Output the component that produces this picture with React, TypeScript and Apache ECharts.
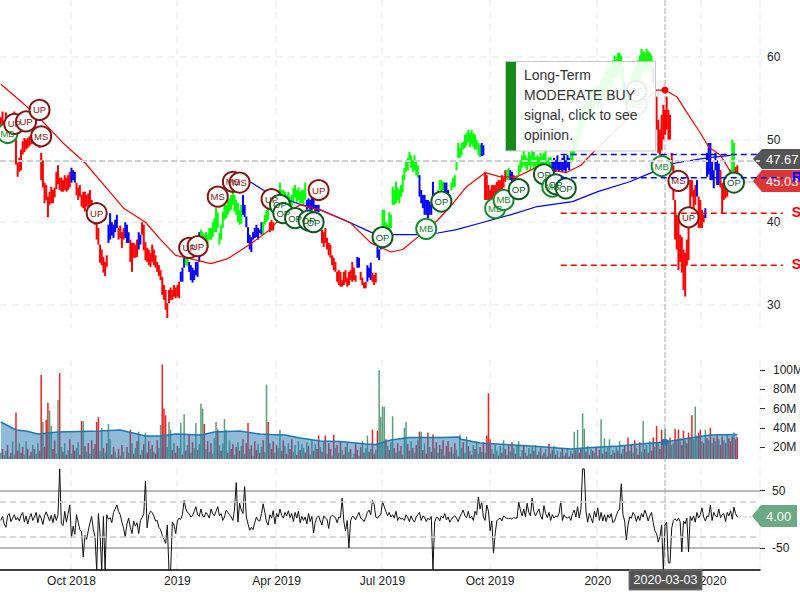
import React, { useEffect, useRef } from "react";
import * as echarts from "echarts";

const FONT = '"Liberation Sans", Arial, sans-serif';
const SLOT_COUNT = 452;

const xTickIndex = [42, 105, 164, 227, 291, 355, 417];
const xTickLabels = ["Oct 2018", "2019", "Apr 2019", "Jul 2019", "Oct 2019", "2020", "Apr 2020"];
const priceTicks = [30, 40, 50, 60];
const volumeTicks = [20, 40, 60, 80, 100];
const oscillatorTicks = [-50, 50];
const oscillatorGuides = [-30, 30];

const priceHigh = [
  52.7,53.4,52.3,53.3,52.7,53.0,52.0,52.7,53.4,50.5,
  47.2,47.8,48.8,49.8,50.2,50,50.2,50.4,50.6,50.7,
  50.8,50.5,50.9,50.3,48.4,47.5,44.8,44.5,43.1,43.7,
  44.3,43.9,44.2,46.1,46.9,45.4,45.4,45.1,45.7,45.4,
  45.7,46.1,46.6,46.3,46.1,44.8,44.2,44.5,43.3,43.7,
  43.7,43.3,43.5,43.9,42.7,42.1,41.5,40,39.3,37.3,
  36.7,35.8,35.2,36,39.7,41.1,40,39.7,40.3,40.9,
  39.3,39.6,38.8,39.3,40,39.7,38.8,37.9,37.5,37.5,
  37.3,37.9,38.8,38.5,40,39.7,37.6,36.9,36.7,36.3,
  37.3,36.7,36,35.2,34.8,34.2,33.4,32.4,31.8,30.2,
  31.8,32.1,31.8,32.4,32.1,32.4,32.8,34,34.5,35.7,
  35.7,35.7,35.2,34.8,34.5,34.2,35.2,35.2,38.8,39.1,
  38.8,38.5,38.8,38.5,39.3,39.3,40,40.5,41.7,41.2,
  38.7,39.7,41.3,42.1,42.1,42.7,42.9,43.3,43.9,43.3,
  42.7,42.3,41.5,42.1,43.3,42.1,40.7,39.4,38.5,38.2,
  38.8,39.3,39.7,39.3,39.1,40,40,40.9,41.5,42.1,
  40,40.3,40,42.7,43.3,43.9,44.8,43.9,43.9,43.7,
  43.3,43.7,43.1,43.3,44.2,44.5,43.9,44.2,43.7,43.9,
  43.9,44.8,42.7,42.9,42.7,43.3,43.3,42.1,42.1,42.1,
  40.9,39.1,38.8,39.3,38.1,37.5,37.3,36,35.7,35.2,
  34,34.2,34,33,34,34.2,33.3,34,34.2,35.2,
  34.5,33.6,35.8,35.7,34,33.3,32.7,32.8,34.8,34.5,
  35.1,33.9,33.6,33.9,37,36.7,37.9,41.5,41.5,40,
  39.7,41.2,40.9,44.3,43.9,44.9,44.2,43.9,44.5,45.7,
  46.6,47.3,47.8,48.5,48.1,47.5,48.1,47.5,46.9,45.7,
  43.9,43.3,43.3,42.7,42.7,42.5,42.1,44.9,43.3,43.3,
  43.9,45.1,45.1,44.9,44.8,44.8,43.9,43.3,44.8,45.4,
  45.7,47.3,49.6,49,49.6,49.7,50.6,50.8,51.2,50.8,
  51.2,50.8,50.6,50,49.6,49.4,49.6,49.3,46.1,45.7,
  44.5,43.9,44.5,44.5,44.5,44.9,45.1,45.1,45.7,45.4,
  46.3,46.3,46.6,46.3,46.1,45.7,45.4,45.7,46.9,47.5,
  48.1,48.7,48.1,47.8,48.5,48.1,48.7,48.5,47.9,48.1,
  47.9,48.4,48.1,48.4,48.7,47.5,47.8,47.9,47.5,47.8,
  47.5,48.1,47.3,47.5,47.8,48.1,47.5,48.1,47.8,48.7,
  49,50,50.6,51.4,52.4,53,53.6,54.2,54.8,55.4,
  55.4,56,55.4,56.2,56.6,56,56.6,57.2,57.5,58.2,
  58.4,58.7,59,59,59.6,60.2,59.8,60.5,60.5,60.2,
  59,57,56.6,56.6,57.2,57.8,58.2,58.7,59,59.6,
  60.2,61,60.7,60.5,61,60.7,60.5,60.2,58.7,55.1,
  55.2,52.4,51.2,53,54.2,53.6,55.2,53.6,53,48.4,
  46.9,42.7,40.9,40.3,38.5,38.2,36.7,36.3,37.9,39.7,
  45.1,45.1,43.9,44.5,45.1,43.1,42.7,41.5,40.9,41.7,
  48.4,49.6,49.6,47.5,46.3,48.4,47.5,47.1,46.3,44.8,
  44.8,44.8,44.5,45.7,46.3,50,49.6,46.7,46.9,
];

const priceLow = [
  51.1,51.4,50.5,51.8,51.0,51.4,50.5,51.1,51.4,47.0,
  45.5,46.1,46.3,48.2,48.5,48.8,49,49.2,49.4,49.5,
  49.4,49.2,49.5,49,45.1,44.2,42.3,42.7,40.6,42.1,
  42.3,42.3,43,44,44.6,43.9,43.7,43.7,43.9,43.7,
  43.9,44.2,44.8,45.1,44.8,43.3,42.7,43.1,41.9,41.7,
  41.3,41.9,41.5,42.1,40.9,40.3,39.7,37.9,37.3,35.1,
  34.8,33.9,33.5,34.6,37.5,37.9,38.4,38.1,38.8,39.3,
  37.9,38.1,36.9,37.9,38.1,37.5,37.5,35.2,34,35.7,
  35.7,35.8,36.7,37.3,38.5,36.6,35.4,35.2,34.8,34.6,
  35.2,34.8,34.5,34,33.5,33,31.2,30.6,29.4,28.4,
  30.2,30.6,30.6,31,30.8,31,30.8,32.8,32.8,34.5,
  34.8,34.7,34,33,32.7,33,33.6,33.4,35.2,37.3,
  37.1,37,37.3,36.9,37.9,37.9,38.2,38.8,38.8,39.3,
  37.3,37.9,39.3,40.3,40.5,40.9,41.3,41.5,42.1,41.3,
  40.9,40,39.7,39.8,40.9,40.6,39.4,37.5,36.7,36.4,
  37.9,38.1,38.2,37.9,38.7,38.5,38.5,39.7,40,40.3,
  38.8,39,39,40.9,41.5,42.1,43.3,42.1,42.1,41.9,
  41.8,42.1,41.9,41.9,42.3,43,42.3,42.7,42.3,42.3,
  42.1,42.7,41.5,41.7,41.5,41.5,41.7,41.3,41.3,41.2,
  39.7,37.5,37,37.5,36.7,36,35.7,34.8,34.2,34,
  32.8,32.4,32.2,32.2,32.4,32.7,32.2,32.4,33,32.8,
  33,32.8,34.5,34.5,33,32.4,32,32,32.8,33.3,
  33,32.8,32.4,32.7,35.7,35.4,36.7,39.4,39.3,38.8,
  38.8,39.1,39.3,42.1,42.1,42.3,42.7,42.3,43.1,43.6,
  45.1,46.1,46.3,47.2,46.6,46.1,46.3,45.7,45.4,43.1,
  42.3,41.7,40.9,40.9,40.5,40.9,40.9,42.7,41.7,42.1,
  42.7,43.9,43.7,43.9,43.5,43.3,42.7,42.3,43.9,44.2,
  44.3,46.3,47.8,47.8,48.1,48.8,49,49.3,49.7,49.1,
  49.4,49.1,48.8,48.8,48.1,47.9,48,48.1,42.7,42.7,
  42.7,42.7,42.9,42.7,42.7,43.3,43.3,43.7,43.9,44.2,
  44.9,45.1,45.1,45.1,44.8,44.9,44.5,44.5,45.7,46.1,
  46.6,46.9,46.6,46.3,46.9,46.3,46.9,46.6,46.3,46.7,
  46.7,46.6,46.7,46.9,46.9,46.1,46.3,46.6,46.1,46,
  46.1,46.3,46.1,46.3,46.1,46.3,46.1,46.6,46.3,47.2,
  47.5,48.1,48.7,49.3,50,50.6,51.2,51.8,52.4,53,
  53,53.6,53,53.8,54.2,53.6,54.4,54.8,55,55.4,
  55.8,56,56.6,56.2,57,57.5,57.2,57.7,57.8,57.2,
  56,54.8,54.2,54.4,54.8,55.4,55.8,56,56.2,56.6,
  57.2,57.8,58.2,58.2,58.4,58.4,58.2,58.2,56.8,51.8,
  51.2,48.4,48.1,48.7,50,50.6,51.2,50,50,46.3,
  42.7,37.9,36.7,34.2,35.2,33.9,31.8,31,34.8,35.4,
  40.6,43.1,40.3,42.1,43.1,39.3,39.3,39.3,40,40.5,
  45.5,45.8,45.1,45.1,44.1,46.3,44.5,44.5,44.2,41.1,
  42.7,42.9,43.1,43.9,45.1,46.1,45.7,45.1,45.7,
];

// color runs: [palette key, number of sessions]
const barColorRuns: [string, number][] = [
  ["r",42],["b",3],["r",19],["b",6],["r",4],["b",3],["r",5],["b",2],["r",23],["b",3],["g",2],["b",7],
  ["g",25],["b",12],["g",4],["r",3],["g",19],["b",8],["r",22],["b",2],["r",4],["b",3],["r",3],["b",3],
  ["g",22],["b",10],["g",5],["b",4],["g",18],["b",2],["r",13],["g",2],["b",2],["r",1],["b",1],["g",21],
  ["b",11],["g",32],["b",1],["g",16],["b",1],["r",25],["b",1],["r",4],["b",9],["r",5],["b",2],["g",2],["r",2],
];
const barPalette: Record<string, string> = { r: "#ff0000", g: "#00ff00", b: "#0000ff" };

const volumeM = [
  14,18,12,16,22,10,14,26,12,56,
  16,24,14,20,12,26,18,11,15,22,
  18,13,24,16,95,46,20,48,66,58,
  42,18,27,13,69,97,20,15,24,12,
  17,28,13,22,16,19,25,12,47,47,
  21,15,24,13,27,18,23,46,51,16,
  40,19,14,24,44,28,12,20,15,9,
  18,11,22,15,8,20,14,38,24,13,
  19,26,36,12,17,23,35,14,26,18,
  22,15,13,27,19,43,106,60,53,20,
  46,38,17,24,14,21,19,45,12,54,
  16,22,33,14,25,19,45,17,23,65,
  60,44,18,26,15,24,13,29,46,38,
  22,16,24,49,38,14,27,18,23,12,
  20,25,16,21,28,13,24,45,18,22,
  11,26,17,23,14,20,27,15,85,46,
  24,18,26,14,22,19,38,16,27,21,
  13,24,18,28,15,22,12,26,17,23,
  19,14,25,21,12,27,16,23,18,32,
  20,15,26,32,13,24,18,11,33,19,
  22,14,26,17,12,20,25,15,18,9,
  13,24,17,11,20,26,14,19,32,15,
  18,38,13,17,37,100,51,62,62,28,
  21,17,25,52,19,14,24,16,21,12,
  40,46,23,16,26,19,14,22,27,36,
  36,17,24,13,35,20,15,33,19,25,
  14,22,18,27,11,21,26,15,20,13,
  24,17,10,33,19,25,14,31,21,16,
  12,22,18,26,13,20,15,25,14,32,
  76,28,18,13,22,16,11,21,14,27,
  18,12,23,15,25,19,13,22,26,10,
  17,21,14,11,19,13,20,16,22,12,
  15,19,11,14,18,10,23,13,17,21,
  12,16,9,15,19,11,14,18,10,16,
  13,36,17,38,14,19,55,39,15,21,
  12,18,16,14,20,11,17,49,13,29,
  15,19,28,12,17,14,20,16,26,13,
  18,21,15,30,16,23,14,27,19,12,
  25,15,47,18,22,14,26,16,30,20,
  42,24,18,38,28,39,23,27,30,22,
  24,39,26,38,29,22,37,27,24,35,
  30,53,28,62,32,35,38,26,24,38,
  29,27,40,24,30,26,33,28,22,31,
  27,24,33,29,26,31,35,28,30,
];

const volumeDirection = [
  "grggrgrggr","rgrrggrgrg","rggrrgrrrg","grrggrgrgr","grgrrggrrg","rgrgrgrrrg","grgrggrrgr",
  "rgrgrrgrgr","grgrgrgrrg","rgrrggrrrg","ggrgrrggrg","rgrgrggrgg","grgrgrgggr","grgggrgrrg",
  "rgrgrgrrgr","grrgrgrggr","grrgrggrrg","rgrrggrgrg","grgrggrgrr","grgrgrrgrg","rgrgrrggrg",
  "grrgrgrggr","grrgrggggr","grggrgrgrg","ggrrgrgrgr","grgrrgrrgr","grgrgrrgrg","rgrggrggrg",
  "rgrggrgrgr","rrgrggrgrg","rgrgrgrggr","grgrgrgrgr","grgrgrrgrg","rgrgrgrgrg","rgrgrrggrg",
  "rgrgrgrgrg","rggrgrgrgr","grgrgrgrgr","rggrgrgrrg","rgrrrgrgrg","grgrgrrgrr","grgggrrgrg",
  "rgrgrgrgrr","grgrrrgrr",
].join("");

const oscillator = [
  -2,5,-8,-14,6,10,-4,2,8,-1,
  3,-3,7,12,-5,6,-8,3,10,-2,
  4,12,-6,8,2,-9,6,13,5,-3,
  7,-6,9,-2,8,88,-8,-11,14,-5,
  10,25,-32,-12,-26,8,-5,-18,-22,-66,
  -28,-35,-20,-6,5,-18,-30,-89,10,-25,
  -89,5,-89,8,0,3,-6,12,18,25,
  14,8,-5,-15,-31,-8,2,-14,-25,-3,
  -12,-6,-25,-2,3,10,67,-15,8,14,
  12,6,-3,-2,-14,-18,-28,-35,-42,-10,
  -89,-89,-5,-10,-25,-3,2,0,8,33,
  18,12,10,4,6,14,22,8,5,18,
  6,4,12,8,2,18,10,6,14,22,
  6,10,-2,4,16,12,8,4,-2,18,
  64,-5,28,16,10,57,4,-8,-19,-14,
  -18,-6,4,-2,-3,10,27,12,-5,-10,
  8,2,15,-8,10,4,18,7,2,12,
  6,15,3,10,-4,12,2,14,-6,5,
  -2,4,-8,10,-4,5,-24,-5,3,6,
  -3,-10,6,2,0,-16,4,7,5,3,
  -6,4,3,37,-4,-20,-2,-50,-3,5,
  4,-1,6,12,2,0,-4,3,12,16,
  8,33,26,4,2,6,8,32,22,14,
  6,12,4,8,2,14,-2,4,0,2,
  -2,8,3,-4,6,-1,-5,4,8,12,
  -2,6,4,-4,2,-1,5,-88,-5,3,
  3,-3,6,2,10,-1,4,-5,0,4,
  6,2,-4,4,10,16,6,3,14,2,
  5,-2,14,8,39,18,30,4,-2,25,
  14,-20,-3,-59,-25,-2,0,2,-3,6,
  3,2,1,2,0,3,2,2,30,16,
  6,18,4,28,12,6,37,14,6,12,
  18,6,0,24,10,3,12,-2,8,2,
  6,4,10,32,-2,8,3,2,5,-2,
  10,16,4,22,2,18,88,88,14,-5,
  10,2,-6,14,4,20,-2,12,-3,8,
  -4,8,2,10,-6,-3,6,14,18,62,
  8,-3,-36,-10,4,2,12,8,-4,6,
  -2,10,4,16,8,-3,6,12,-6,-20,
  -25,-40,-30,-10,-88,-10,-5,-76,-76,-15,
  -2,1,-3,2,-4,-57,-3,-8,2,-57,
  5,-2,6,-5,12,2,8,20,4,-3,
  6,5,25,-2,12,6,4,18,3,8,
  10,-4,12,6,15,0,21,10,4,
];

const redAverage = [
  [0,56.7],[11,54.8],[23,52.6],[37,49.6],[50,47.2],[63,44.1],[73,41.7],[86,40],[95,37.9],[104,36],
  [110,35.7],[125,35],[135,35.6],[148,37.3],[160,39.1],[169,41.1],[178,42.1],[190,41.5],[208,39.9],
  [220,37.5],[232,36.4],[239,36.7],[248,38.2],[260,40.3],[269,42.3],[277,44.3],[288,46],[297,45.5],
  [307,45.5],[319,46.7],[336,46],[345,46.9],[352,48.4],[370,52],[380,54.2],[390,56],[395,56],
  [402,55.2],[408,53.3],[416,50.8],[421,49.1],[428,48.1],[434,46.1],[436,45.1],
];
const blueAverage = [
  [142,45],[149,44.8],[156,43.9],[176,42.3],[190,41.5],[204,40.3],[220,38.8],[228,38.5],[248,38.5],
  [260,38.7],[271,39.1],[287,40],[303,40.9],[319,41.9],[340,42.5],[355,43.7],[374,44.9],[387,46],
  [394,46.8],[402,47.2],[420,47.8],[434,48.1],
];
const volumeAverage = [
  [0,46],[9,37.7],[15,36.7],[22,33.5],[34,35.6],[59,36.7],[71,37.7],[86,31.5],[95,31.5],[104,33.5],
  [119,32.5],[127,35.6],[142,36.7],[154,33.5],[160,33],[169,32.5],[178,29.4],[190,26.3],[202,25.7],
  [217,23.1],[223,22.6],[232,27.3],[243,29.9],[261,29.9],[273,30.4],[273,28.3],[285,24.2],[300,22.6],
  [315,21],[339,17.9],[356,20],[368,21],[380,23.1],[395,25.2],[410,29.4],[422,32.5],[438,33],
];
const crosshairIndex = 395;
const crosshairPrice = 56;
const crosshairVolume = 25.2;
const lastPriceLine = 47.4;

const signalIndex = [4,8,15,23,24,57,112,117,129,138,142,161,166,168,175,183,186,189,227,253,262,294,299,308,323,328,330,336,378,378,393,403,409,436];
const signalPrice = [50.8,51.9,52.2,53.6,50.4,41.1,36.9,37.1,43.1,44.9,44.8,42.8,42.1,41.1,40.5,40.2,40,43.9,38.2,39.2,42.5,41.7,42.7,44,45.8,44.3,44.6,44.1,54.2,55.9,46.8,45,40.6,44.8];
const signalType = ["MB","UP","UP","UP","MS","UP","UP","UP","MS","MS","MS","UP","OP","OP","OP","OP","OP","UP","OP","MB","OP","MB","MB","OP","OP","MB","OP","OP","MB","OP","MB","MS","UP","OP"];
const signalColor: Record<string, string> = { OP: "#0b5a1c", MB: "#168a2a", UP: "#861414", MS: "#861414" };

const levelStart = 333;
const levelValues = [48.2, 45.4, 41.1, 34.8];
const levelNames = ["", "R", "S", "S"];
const levelColors = ["#0000ff", "#0000ff", "#ff0000", "#ff0000"];

const tooltipLines = ["Long-Term", "MODERATE BUY", "signal, click to see", "opinion."];
const priceTags = ["47.67", "45.03"];
const oscillatorTag = "4.00";
const crosshairDate = "2020-03-03";

function expandRuns(runs: [string, number][]): string[] {
  const out: string[] = [];
  runs.forEach(([k, n]) => { for (let j = 0; j < n; j++) out.push(barPalette[k]); });
  return out;
}

const GRID_LINE = { show: true, lineStyle: { color: "#efefef", type: [7, 5] as number[], width: 1.5 } };

function buildOption() {
  const categories = Array.from({ length: SLOT_COUNT }, (_, i) => String(i));
  const barColors = expandRuns(barColorRuns);
  const priceRows = priceHigh.map((h, i) => [i, priceLow[i], h, barColors[i]]);
  const signalData = signalIndex.map((ix, k) => {
    const c = signalColor[signalType[k]];
    return {
      value: [ix, signalPrice[k]],
      name: signalType[k],
      itemStyle: { color: "#fff", borderColor: c, borderWidth: 2, opacity: 1 },
      label: { color: c },
    };
  });
  const xInterval = (i: number) => xTickIndex.includes(i);
  const xBase = (gridIndex: number) => ({
    type: "category" as const,
    gridIndex,
    data: categories,
    boundaryGap: true,
    axisTick: { show: false },
    axisLine: { show: false },
    axisLabel: { show: false },
    splitLine: { ...GRID_LINE, interval: xInterval },
  });
  return {
    animation: false,
    textStyle: { fontFamily: FONT },
    grid: [
      { left: 0, width: 760, top: 0, height: 328, outerBoundsMode: "none" },
      { left: 0, width: 760, top: 360, height: 99, outerBoundsMode: "none" },
      { left: 0, width: 760, top: 468, height: 101.5, outerBoundsMode: "none" },
    ],
    xAxis: [
      xBase(0),
      xBase(1),
      {
        ...xBase(2),
        axisLine: { show: true, onZero: false, lineStyle: { color: "#000", width: 1.5 } },
        axisLabel: {
          show: true,
          interval: xInterval,
          margin: 5,
          fontSize: 12,
          fontFamily: FONT,
          color: "#222",
          formatter: (v: string) => xTickLabels[xTickIndex.indexOf(Number(v))] ?? "",
        },
      },
    ],
    yAxis: [
      {
        type: "value", gridIndex: 0, position: "right", min: 27.2, max: 66.9,
        axisLine: { show: false }, axisTick: { show: false, customValues: priceTicks },
        axisLabel: { customValues: priceTicks, margin: 7, fontSize: 12, fontFamily: FONT, color: "#222" },
        splitLine: GRID_LINE,
      },
      {
        type: "value", gridIndex: 1, position: "right", min: 7.5, max: 110.6,
        axisLine: { show: false },
        axisTick: { show: true, customValues: volumeTicks, length: 5, lineStyle: { color: "#333" } },
        axisLabel: { customValues: volumeTicks, margin: 13, fontSize: 12, fontFamily: FONT, color: "#222", formatter: (v: number) => `${v}M` },
        splitLine: { show: false },
      },
      {
        type: "value", gridIndex: 2, position: "right", min: -87.6, max: 89.5,
        axisLine: { show: false },
        axisTick: { show: true, customValues: oscillatorTicks, length: 5, lineStyle: { color: "#333" } },
        axisLabel: { customValues: oscillatorTicks, margin: 12, fontSize: 12, fontFamily: FONT, color: "#222" },
        splitLine: { show: true, lineStyle: { color: "#b9b9b9", width: 2, type: "solid" } },
      },
    ],
    series: [
      {
        type: "custom",
        name: "price",
        xAxisIndex: 0, yAxisIndex: 0, z: 2, silent: true,
        data: priceRows,
        encode: { x: 0, y: [1, 2] },
        clip: true,
        renderItem: (_: any, api: any) => {
          const top = api.coord([api.value(0), api.value(2)]);
          const bottom = api.coord([api.value(0), api.value(1)]);
          return {
            type: "rect",
            shape: { x: top[0] - 1, y: top[1], width: 2, height: bottom[1] - top[1] },
            style: { fill: priceRows[api.value(0)][3] as string },
          };
        },
        markLine: {
          silent: true, symbol: "none", label: { show: false }, animation: false,
          lineStyle: { color: "#cfcfcf", type: [6, 3], width: 2 },
          data: [{ yAxis: lastPriceLine }],
        },
      },
      {
        type: "line", name: "blue average", xAxisIndex: 0, yAxisIndex: 0, z: 3, silent: true,
        data: blueAverage, symbol: "none", lineStyle: { color: "#0000ff", width: 1.2 },
      },
      {
        type: "line", name: "red average", xAxisIndex: 0, yAxisIndex: 0, z: 3, silent: true,
        data: redAverage, symbol: "none", lineStyle: { color: "#ff0000", width: 1.2 },
      },
      {
        type: "scatter", name: "crosshair price", xAxisIndex: 0, yAxisIndex: 0, z: 3, silent: true,
        data: [[crosshairIndex, crosshairPrice]], symbolSize: 7, itemStyle: { color: "#ff0000", opacity: 1 },
      },
      {
        type: "scatter", name: "signals", xAxisIndex: 0, yAxisIndex: 0, z: 4, silent: true,
        data: signalData, symbol: "circle", symbolSize: 20,
        label: { show: true, position: "inside", fontSize: 9.5, fontFamily: FONT, formatter: (p: any) => p.name },
      },
      {
        type: "custom", name: "levels", xAxisIndex: 0, yAxisIndex: 0, z: 6, silent: true,
        data: levelValues.map((v, k) => [levelStart, v, k]),
        encode: { x: 0, y: 1 },
        clip: false,
        renderItem: (_: any, api: any) => {
          const k = api.value(2);
          const p = api.coord([api.value(0), api.value(1)]);
          const end = api.coord([SLOT_COUNT, api.value(1)]);
          return {
            type: "group",
            children: [
              {
                type: "line",
                shape: { x1: p[0], y1: p[1], x2: end[0] + (k === 0 ? -3 : 22), y2: p[1] },
                style: { stroke: levelColors[k], lineWidth: 1.5, lineDash: [6, 4] },
              },
              {
                type: "text",
                x: end[0] + 31, y: p[1] - 1,
                style: {
                  text: levelNames[k], fill: levelColors[k], font: `bold 14px ${FONT}`,
                  textAlign: "left", textVerticalAlign: "middle",
                },
              },
            ],
          };
        },
      },
      {
        type: "bar", name: "volume", xAxisIndex: 1, yAxisIndex: 1, z: 2, silent: true,
        barWidth: 1.5,
        data: volumeM.map((v, i) => ({
          value: v,
          itemStyle: { color: volumeDirection[i] === "r" ? "#ee2222" : "#5a9e78" },
        })),
      },
      {
        type: "line", name: "volume average", xAxisIndex: 1, yAxisIndex: 1, z: 3, silent: true,
        data: volumeAverage, symbol: "none",
        lineStyle: { color: "#1f77b4", width: 1.5 },
        areaStyle: { color: "#1f77b4", opacity: 0.5, origin: "start" },
      },
      {
        type: "scatter", name: "crosshair volume", xAxisIndex: 1, yAxisIndex: 1, z: 4, silent: true,
        data: [[crosshairIndex, crosshairVolume]], symbolSize: 7, itemStyle: { color: "#1f77b4", opacity: 1 },
      },
      {
        type: "line", name: "oscillator", xAxisIndex: 2, yAxisIndex: 2, z: 3, silent: true,
        data: oscillator, symbol: "none", lineStyle: { color: "#111", width: 1 },
        markLine: {
          silent: true, symbol: "none", label: { show: false }, animation: false,
          lineStyle: { color: "#cccccc", type: [6, 4], width: 1.5 },
          data: oscillatorGuides.map((v) => ({ yAxis: v })),
        },
      },
    ],
    graphic: {
      elements: [
        {
          type: "line", z: 1, silent: true,
          shape: { x1: 665, y1: 0, x2: 665, y2: 570 },
          style: { stroke: "#aaaaaa", lineWidth: 1, lineDash: [6, 2] },
        },
        {
          type: "polygon", z: 1, silent: true,
          shape: { points: [[753, 159], [762, 149], [800, 149], [800, 169], [762, 169]] },
          style: { fill: "#555555" },
        },
        {
          type: "text", z: 1, silent: true, x: 766, y: 159.5,
          style: { text: priceTags[0], fill: "#fff", font: `13px ${FONT}`, textVerticalAlign: "middle" },
        },
        {
          type: "polygon", z: 1, silent: true,
          shape: { points: [[753, 181], [762, 170], [800, 170], [800, 192], [762, 192]] },
          style: { fill: "#e03535" },
        },
        {
          type: "text", z: 1, silent: true, x: 766, y: 181,
          style: { text: priceTags[1], fill: "#fff", font: `13px ${FONT}`, textVerticalAlign: "middle" },
        },
        {
          type: "line", z: 1, silent: true,
          shape: { x1: 743, y1: 182, x2: 753, y2: 182 },
          style: { stroke: "#bbbbbb", lineWidth: 1 },
        },
        {
          type: "line", z: 1, silent: true,
          shape: { x1: 737, y1: 517, x2: 752, y2: 517 },
          style: { stroke: "#bbbbbb", lineWidth: 1, lineDash: [4, 2] },
        },
        {
          type: "polygon", z: 5, silent: true,
          shape: { points: [[752, 516], [761, 505], [797, 505], [797, 527], [761, 527]] },
          style: { fill: "#6aa984" },
        },
        {
          type: "text", z: 5, silent: true, x: 766, y: 516.5,
          style: { text: oscillatorTag, fill: "#fff", font: `13px ${FONT}`, textVerticalAlign: "middle" },
        },
        {
          type: "rect", z: 20, silent: true,
          shape: { x: 505.5, y: 61.5, width: 150, height: 89.5 },
          style: { fill: "rgba(255,255,255,0.9)", stroke: "#c8c8c8", lineWidth: 1 },
        },
        {
          type: "rect", z: 21, silent: true,
          shape: { x: 506, y: 62, width: 10, height: 88.5 },
          style: { fill: "#178a1c" },
        },
        ...tooltipLines.map((t, k) => ({
          type: "text", z: 21, silent: true, x: 524, y: 75 + k * 20,
          style: { text: t, fill: "#333", font: `14px ${FONT}`, textVerticalAlign: "middle" },
        })),
        {
          type: "rect", z: 21, silent: true,
          shape: { x: 629, y: 570, width: 73, height: 20 },
          style: { fill: "#555555", stroke: "#777", lineWidth: 1 },
        },
        {
          type: "text", z: 22, silent: true, x: 665.5, y: 580,
          style: { text: crosshairDate, fill: "#fff", font: `12.5px ${FONT}`, textAlign: "center", textVerticalAlign: "middle" },
        },
      ],
    },
  };
}

export default function App() {
  const ref = useRef<HTMLDivElement>(null);
  useEffect(() => {
    if (!ref.current) return;
    const chart = echarts.init(ref.current, undefined, { renderer: "svg" });
    chart.setOption(buildOption() as any);
    return () => chart.dispose();
  }, []);
  return (
    <div
      ref={ref}
      style={{ position: "fixed", left: 0, top: 0, width: 800, height: 600, background: "#fff", overflow: "hidden" }}
    />
  );
}
